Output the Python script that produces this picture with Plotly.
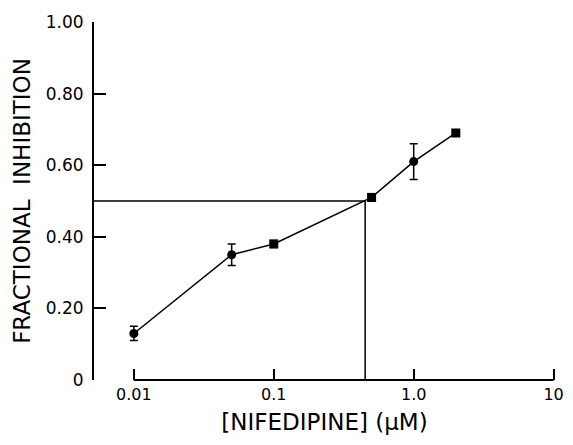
import numpy as np
import plotly.graph_objects as go

# ------ Data
conc = [0.01, 0.05, 0.1, 0.5, 1.0, 2.0]          # nifedipine (uM)
inhib = [0.13, 0.35, 0.38, 0.51, 0.61, 0.69]     # fractional inhibition
err = [0.02, 0.03, 0.01, 0.01, 0.05, 0.0]
symbols = ['circle', 'circle', 'square', 'square', 'circle', 'square']

ic50 = 0.45
half = 0.50

x_ticks = [0.01, 0.1, 1.0, 10]
x_ticktext = ['0.01', '0.1', '1.0', '10']
y_ticks = [0, 0.2, 0.4, 0.6, 0.8, 1.0]
y_ticktext = ['0', '0.20', '0.40', '0.60', '0.80', '1.00']

x_min_log = -2.285   # y axis sits a bit left of 0.01
x_max_log = 1.01

font = 'DejaVu Sans'

fig = go.Figure()

# IC50 guide lines
fig.add_trace(go.Scatter(
    x=[10 ** x_min_log, ic50, ic50], y=[half, half, 0],
    mode='lines', line=dict(color='black', width=1.5),
    hoverinfo='skip', showlegend=False))

# data
fig.add_trace(go.Scatter(
    x=conc, y=inhib, mode='lines+markers',
    line=dict(color='black', width=1.5),
    marker=dict(symbol=symbols, size=9, color='black'),
    error_y=dict(type='data', array=err, color='black', thickness=1.5, width=4),
    showlegend=False))

# page body adds ~8px offset, margins compensate; r keeps "10" inside the window
fig.update_layout(
    width=573, height=445,
    margin=dict(l=86, r=26, t=14, b=73),
    paper_bgcolor='white', plot_bgcolor='white',
    font=dict(family=font, color='black', size=17),
    shapes=[dict(type='line', xref='x', yref='paper',
                 x0=x_ticks[0], x1=x_ticks[-1], y0=0, y1=0,
                 line=dict(color='black', width=2))],
)

fig.update_xaxes(
    type='log', range=[x_min_log, x_max_log], automargin=False,
    showline=False, showgrid=False, zeroline=False,
    tickmode='array', tickvals=x_ticks, ticktext=x_ticktext,
    ticks='inside', ticklen=11, tickwidth=2, tickcolor='black',
    tickfont=dict(size=16), ticklabelstandoff=3,
    title=dict(text='[NIFEDIPINE] (μM)', font=dict(size=23), standoff=10))

fig.update_yaxes(
    range=[0, 1.0], automargin=False,
    showline=True, linecolor='black', linewidth=2,
    showgrid=False, zeroline=False,
    tickmode='array', tickvals=y_ticks, ticktext=y_ticktext,
    ticks='inside', ticklen=12, tickwidth=2, tickcolor='black',
    tickfont=dict(size=17), ticklabelstandoff=5,
    title=dict(text='FRACTIONAL  INHIBITION', font=dict(size=23), standoff=9))

fig.write_html('out.html')
